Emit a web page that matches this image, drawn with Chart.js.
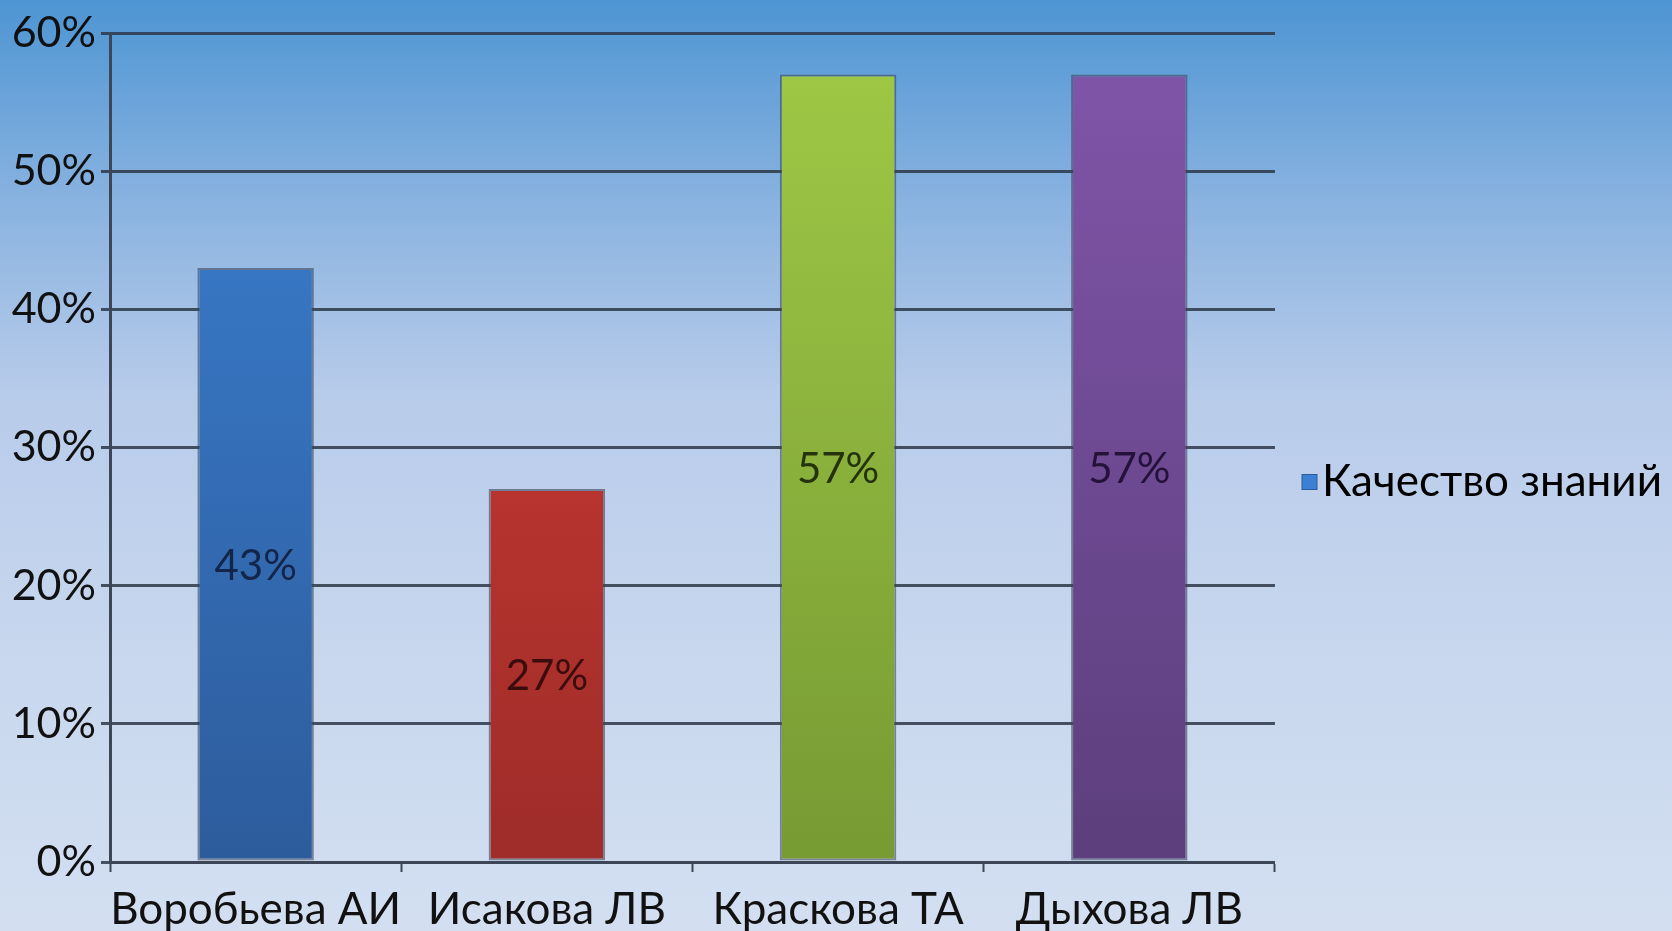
<!DOCTYPE html>
<html>
<head>
<meta charset="utf-8">
<script src="https://cdn.jsdelivr.net/npm/chart.js@4"></script>
<style>
html,body{margin:0;padding:0;background:#c9d8ee;}
#wrap{width:1672px;height:931px;position:relative;}
</style>
</head>
<body>
<div id="wrap"><canvas id="c" width="1672" height="931"></canvas></div>
<script>
const categories = ["Воробьева АИ", "Исакова ЛВ", "Краскова ТА", "Дыхова ЛВ"];
const seriesName = "Качество знаний";
const values = [43, 27, 57, 57];
const yTicks = [0, 10, 20, 30, 40, 50, 60];

const topColors = ["#3b80d2", "#d63d36", "#a0c946", "#8156aa"];
const bottomColors = ["#2d5c9c", "#9e2c29", "#779a33", "#5c3e7c"];
const labelColors = ["#14254a", "#3a0d0c", "#24330c", "#24123a"];
const FONT = "Lato, 'Noto Sans', sans-serif";

const bgPlugin = {
  id: 'bg',
  beforeDraw(chart) {
    const ctx = chart.ctx;
    const g = ctx.createLinearGradient(0, 0, 0, chart.height);
    g.addColorStop(0, '#4d95d3');
    g.addColorStop(0.22, '#8ab3e0');
    g.addColorStop(0.42, '#b7cbea');
    g.addColorStop(0.7, '#c8d7ee');
    g.addColorStop(1, '#d3dff1');
    ctx.save();
    ctx.fillStyle = g;
    ctx.fillRect(0, 0, chart.width, chart.height);
    ctx.restore();
  }
};

const valueLabels = {
  id: 'valueLabels',
  afterDatasetsDraw(chart) {
    const ctx = chart.ctx;
    const meta = chart.getDatasetMeta(0);
    ctx.save();
    ctx.font = "42px " + FONT;
    ctx.textAlign = 'center';
    ctx.textBaseline = 'middle';
    meta.data.forEach((bar, i) => {
      const v = chart.data.datasets[0].data[i];
      ctx.fillStyle = labelColors[i];
      ctx.fillText(v + '%', bar.x, (bar.y + bar.base) / 2 + 2);
    });
    ctx.restore();
  }
};

function barGradient(context) {
  const chart = context.chart;
  const area = chart.chartArea;
  const i = context.dataIndex;
  if (!area) return topColors[i];
  const el = context.element;
  const y0 = el && isFinite(el.y) ? el.y : area.top;
  const g = chart.ctx.createLinearGradient(0, y0, 0, area.bottom);
  g.addColorStop(0, topColors[i]);
  g.addColorStop(1, bottomColors[i]);
  return g;
}

// legend marker: small square sitting right next to the text
const marker = document.createElement('canvas');
marker.width = 52; marker.height = 18;
(function () {
  const m = marker.getContext('2d');
  const sx = 26 + 17 - 8;
  m.fillStyle = topColors[0];
  m.fillRect(sx, 1, 16, 16);
  m.strokeStyle = '#2d5c9c';
  m.lineWidth = 1;
  m.strokeRect(sx + 0.5, 1.5, 15, 15);
})();

new Chart(document.getElementById('c'), {
  type: 'bar',
  data: {
    labels: categories,
    datasets: [{
      label: seriesName,
      data: values,
      backgroundColor: barGradient,
      borderColor: 'rgba(60,70,90,0.6)',
      borderWidth: 2,
      borderSkipped: false,
      categoryPercentage: 1.0,
      barPercentage: 0.4
    }]
  },
  options: {
    responsive: false,
    animation: false,
    devicePixelRatio: 1,
    layout: { padding: { top: 33, left: 0, right: 0, bottom: 0 } },
    plugins: {
      tooltip: { enabled: false },
      legend: {
        position: 'right',
        align: 'center',
        labels: {
          font: { family: FONT, size: 44 },
          color: '#111',
          usePointStyle: true,
          boxWidth: 15,
          boxHeight: 15,
          padding: 10,
          generateLabels(chart) {
            return [{
              text: seriesName,
              fillStyle: topColors[0],
              strokeStyle: '#2d5c9c',
              pointStyle: marker,
              lineWidth: 1,
              hidden: false,
              datasetIndex: 0
            }];
          }
        }
      }
    },
    scales: {
      x: {
        offset: true,
        afterFit(scale) { scale.height = 69; },
        grid: {
          display: true,
          drawOnChartArea: false,
          drawTicks: true,
          tickLength: 10,
          tickWidth: 2,
          tickColor: '#3c4656',
          offset: true
        },
        border: { display: true, color: '#3c4656', width: 3 },
        ticks: {
          font: { family: FONT, size: 44 },
          color: '#111',
          padding: 11,
          maxRotation: 0,
          autoSkip: false
        }
      },
      y: {
        min: 0,
        max: 60,
        afterBuildTicks(scale) {
          scale.ticks = yTicks.map(v => ({ value: v }));
        },
        afterFit(scale) { scale.width = 110; },
        grid: {
          color: 'rgba(45,55,72,0.85)',
          lineWidth: 3,
          tickLength: 9,
          tickColor: 'rgba(45,55,72,0.85)'
        },
        border: { display: true, color: '#3c4656', width: 3 },
        ticks: {
          font: { family: FONT, size: 43 },
          color: '#111',
          padding: 5,
          callback: v => v + '%'
        }
      }
    }
  },
  plugins: [bgPlugin, valueLabels]
});
</script>
</body>
</html>
